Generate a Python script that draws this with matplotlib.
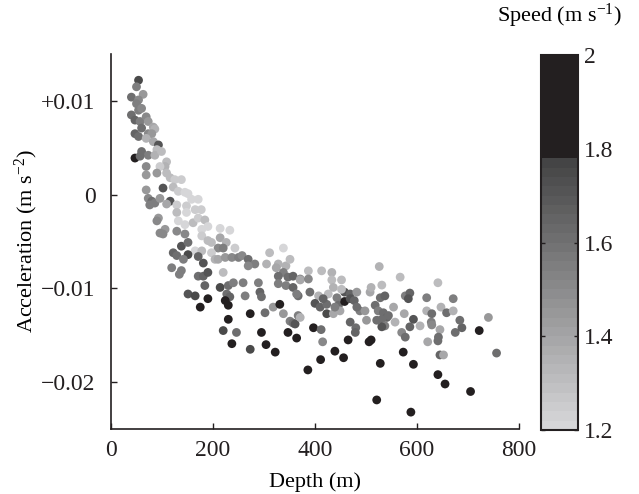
import numpy as np
import matplotlib
matplotlib.use("Agg")
import matplotlib.pyplot as plt
from matplotlib.colors import ListedColormap, Normalize

plt.rcParams['font.family'] = ['Liberation Serif', 'DejaVu Serif']
plt.rcParams['mathtext.fontset'] = 'custom'
plt.rcParams['mathtext.rm'] = 'Liberation Serif'
plt.rcParams['mathtext.it'] = 'Liberation Serif:italic'

# depth (m), acceleration (1e-3 m s^-2), speed (m s^-1)
depth = [
    54, 50, 63, 40, 54, 50, 40, 54, 60, 47, 57, 69, 73, 83, 86, 60, 47, 54, 73, 80,
    69, 83, 93, 90, 60, 73, 47, 57, 86, 99, 109, 106, 96, 69, 90, 109, 116, 69, 125, 138,
    102, 122, 132, 145, 151, 69, 73, 80, 76, 86, 96, 116, 109, 129, 148, 158, 171, 148, 165, 177,
    129, 132, 145, 161, 171, 184, 93, 90, 178, 190, 214, 233, 178, 190, 197, 214, 226, 210, 220, 243,
    165, 178, 197, 106, 96, 102, 129, 145, 138, 151, 151, 122, 129, 142, 181, 171, 119, 138, 134, 171,
    181, 190, 204, 210, 224, 237, 250, 257, 269, 282, 269, 305, 311, 338, 328, 324, 343, 351, 338, 347,
    357, 371, 328, 328, 343, 357, 367, 220, 184, 214, 230, 240, 259, 289, 292, 295, 227, 233, 224, 263,
    151, 165, 190, 175, 230, 273, 230, 302, 318, 331, 338, 351, 357, 367, 220, 246, 295, 347, 237, 304,
    322, 273,
    387, 413, 433, 371, 387, 433, 452, 526, 567, 531, 641, 364, 390, 407, 426, 436, 443, 458, 469, 482,
    400, 410, 423, 446, 458, 469, 477, 423, 436, 449, 488, 498, 508, 510, 528, 537, 518, 524, 534, 541,
    531, 537, 531, 554, 544, 557, 577, 586, 583, 575, 593, 586, 606, 570, 577, 619, 619, 629, 628, 629,
    647, 658, 671, 671, 645, 642, 641, 621, 675, 688, 684, 740, 722, 756, 645, 652, 361, 371, 364, 397,
    412, 415, 465, 469, 480, 479, 501, 510, 506, 439, 456, 411, 386, 573, 593, 528, 641, 655, 705, 521,
    588, 416, 439, 452, 482, 521,
]
accel_milli = [
    12.2, 11.5, 10.7, 10.4, 10.1, 9.7, 8.5, 9.0, 9.2, 7.95, 7.8, 8.3, 7.8, 7.2, 7.0, 7.1, 6.5, 6.2, 6.5, 6.5,
    6.0, 5.65, 5.3, 4.8, 4.6, 4.2, 3.9, 4.1, 4.2, 4.6, 3.5, 3.0, 3.0, 3.0, 2.3, 2.3, 1.8, 2.1, 1.6, 1.6,
    0.7, 0.8, 0.35, 0.25, 0.1, 0.5, -0.4, -0.7, -1.1, -0.9, -0.4, -0.7, -1.0, -1.1, -1.2, -0.5, -0.5, -1.9, -1.6, -1.6,
    -1.9, -2.8, -3.2, -3.0, -2.5, -2.7, -2.5, -2.8, -3.7, -3.4, -3.6, -3.8, -4.4, -4.9, -5.1, -4.6, -5.1, -5.7, -5.7, -5.7,
    -6.0, -6.0, -6.2, -3.7, -4.1, -4.2, -3.9, -4.2, -5.5, -5.1, -6.4, -6.2, -6.5, -6.9, -7.3, -6.6, -7.8, -8.1, -8.5, -8.7,
    -8.7, -8.3, -6.9, -6.9, -6.7, -6.7, -6.7, -6.5, -6.9, -7.4, -7.6, -7.4, -6.2, -5.7, -7.4, -7.8, -7.6, -6.9, -8.3, -8.8,
    -8.7, -9.0, -8.7, -9.5, -9.7, -9.9, -10.8, -8.3, -9.7, -9.9, -9.7, -9.4, -9.4, -9.4, -10.4, -10.9, -10.6, -10.9, -11.3, -10.8,
    -10.6, -10.8, -11.1, -12.0, -11.8, -12.7, -13.3, -12.6, -12.0, -11.7, -12.7, -13.5, -13.7, -12.9, -14.5, -14.7, -14.7, -14.7, -15.9, -16.0,
    -16.8, -16.5,
    -8.13, -8.13, -8.3, -9.1, -9.0, -9.1, -9.1, -7.67, -8.8, -9.65, -9.4, -10.6, -10.4, -10.8, -10.6, -9.9, -11.0, -10.4, -10.6, -10.4,
    -11.6, -12.0, -11.7, -11.8, -11.4, -11.1, -11.3, -12.7, -12.7, -12.4, -12.4, -12.4, -10.4, -9.9, -11.0, -10.8, -11.8, -12.4, -12.6, -13.1,
    -13.3, -14.0, -14.1, -12.0, -12.9, -13.6, -10.8, -10.5, -11.1, -12.7, -13.3, -14.1, -14.0, -14.7, -15.2, -11.0, -12.4, -12.7, -13.6, -13.9,
    -12.0, -12.6, -12.4, -11.1, -14.4, -15.2, -15.6, -15.7, -14.7, -14.2, -13.4, -13.1, -14.5, -16.9, -17.1, -17.1, -13.8, -13.1, -15.3, -14.2,
    -14.4, -15.7, -15.5, -13.6, -14.2, -14.7, -13.4, -15.5, -15.7, -16.7, -17.4, -17.6, -18.7, -16.8, -18.1, -18.0, -19.2, -20.2, -21.0, -21.9,
    -23.2, -11.1, -12.0, -10.1, -12.0, -13.4,
]
speed = [
    1.75, 1.55, 1.45, 1.6, 1.5, 1.55, 1.6, 1.55, 1.5, 1.65, 1.55, 1.5, 1.45, 1.4, 1.35, 1.6, 1.65, 1.6, 1.5, 1.45,
    1.35, 1.4, 1.7, 1.3, 1.6, 1.55, 1.95, 1.6, 1.35, 1.3, 1.3, 1.35, 1.25, 1.5, 1.45, 1.3, 1.3, 1.45, 1.25, 1.25,
    1.7, 1.3, 1.25, 1.2, 1.2, 1.45, 1.5, 1.6, 1.55, 1.55, 1.45, 1.7, 1.4, 1.25, 1.25, 1.2, 1.2, 1.2, 1.25, 1.25,
    1.3, 1.2, 1.2, 1.3, 1.25, 1.3, 1.45, 1.5, 1.2, 1.2, 1.2, 1.2, 1.25, 1.3, 1.3, 1.4, 1.35, 1.5, 1.55, 1.25,
    1.2, 1.3, 1.25, 1.45, 1.5, 1.5, 1.5, 1.5, 1.7, 1.6, 1.75, 1.65, 1.6, 1.55, 1.7, 1.65, 1.55, 1.55, 1.55, 1.6,
    1.65, 1.7, 1.35, 1.4, 1.45, 1.5, 1.55, 1.5, 1.6, 1.55, 1.5, 1.35, 1.3, 1.2, 1.35, 1.4, 1.35, 1.3, 1.55, 1.6,
    1.65, 1.5, 1.6, 1.55, 1.55, 1.65, 1.6, 1.3, 1.65, 1.75, 1.6, 1.55, 1.55, 1.55, 1.65, 1.6, 1.6, 1.65, 1.85, 1.55,
    1.7, 1.75, 1.9, 1.85, 1.9, 1.9, 1.85, 1.6, 1.45, 1.9, 1.45, 1.55, 1.6, 1.55, 1.75, 1.6, 1.85, 1.85, 1.9, 1.85,
    1.9, 1.75,
    1.3, 1.3, 1.35, 1.4, 1.5, 1.3, 1.3, 1.35, 1.3, 1.3, 1.3, 1.55, 1.6, 1.35, 1.3, 1.35, 1.55, 1.7, 1.65, 1.45,
    1.7, 1.65, 1.6, 1.6, 1.9, 1.7, 1.65, 1.75, 1.4, 1.4, 1.55, 1.45, 1.4, 1.35, 1.6, 1.65, 1.6, 1.55, 1.6, 1.65,
    1.6, 1.55, 1.7, 1.4, 1.6, 1.35, 1.55, 1.65, 1.7, 1.4, 1.7, 1.65, 1.35, 1.5, 1.6, 1.55, 1.35, 1.6, 1.55, 1.5,
    1.35, 1.6, 1.35, 1.55, 1.4, 1.6, 1.6, 1.4, 1.6, 1.65, 1.6, 1.45, 1.9, 1.6, 1.65, 1.4, 1.7, 1.35, 1.85, 1.9,
    1.6, 1.5, 1.9, 1.65, 1.6, 1.65, 1.45, 1.85, 1.85, 1.85, 1.9, 1.9, 1.9, 1.9, 1.9, 1.9, 1.9, 1.9, 1.9, 1.9,
    1.9, 1.65, 1.55, 1.3, 1.6, 1.6,
]

xticks = [0, 200, 400, 600, 800]
yticks = [-0.02, -0.01, 0, 0.01]
ytick_labels = ['\u22120.02', '\u22120.01', '0', '+0.01']
cbar_ticks = [1.2, 1.4, 1.6, 1.8, 2.0]
cbar_labels = ['1.2', '1.4', '1.6', '1.8', '2']

# stepped grey map: light->dark up to 1.78, flat near-black above
vmin, vmax, nbins = 1.2, 2.0, 40
cols = []
for i in range(nbins):
    s = vmin + (i + 0.5) * (vmax - vmin) / nbins
    if s < 1.78:
        g = 0.85 - (s - 1.2) * 1.02
        cols.append((g, g, min(g * 1.01, 1.0)))
    else:
        cols.append((0.137, 0.122, 0.125))
cmap = ListedColormap(cols)
norm = Normalize(vmin=vmin, vmax=vmax)

fig = plt.figure(figsize=(6.39, 4.94), dpi=100)
ax = fig.add_axes([111 / 639, 65 / 494, 408 / 639, 375 / 494])

sc = ax.scatter(depth, np.array(accel_milli) * 1e-3, c=speed, cmap=cmap, norm=norm,
                s=40, linewidths=0)

ax.set_xlim(0, 800)
ax.set_ylim(-0.025, 0.015)
ax.set_xticks(xticks)
ax.set_xticklabels([str(t) for t in xticks])
ax.set_yticks(yticks)
ax.set_yticklabels(ytick_labels)
ax.spines['top'].set_visible(False)
ax.spines['right'].set_visible(False)
for sp in ('left', 'bottom'):
    ax.spines[sp].set_linewidth(1.2)
    ax.spines[sp].set_color('#231f20')
ax.tick_params(direction='in', length=4, width=1, labelsize=17, pad=11, colors='#231f20')
ax.tick_params(axis='x', pad=8)
ax.set_xlabel('Depth (m)', fontsize=16, labelpad=8)
ax.set_ylabel('Acceleration (m s$^{-2}$)', fontsize=16, labelpad=1)

cax = fig.add_axes([541 / 639, 64 / 494, 37 / 639, 375 / 494])
cb = fig.colorbar(sc, cax=cax)
cb.set_ticks(cbar_ticks)
cb.set_ticklabels(cbar_labels)
cb.outline.set_linewidth(1.5)
cb.outline.set_edgecolor('#231f20')
cax.tick_params(direction='in', length=3, width=1, left=True, right=True,
                labelsize=17, pad=4, colors='#231f20')
cax.set_title('Speed (m s$^{-1}$)', fontsize=16, pad=24)

fig.savefig('out.png', dpi=100)
